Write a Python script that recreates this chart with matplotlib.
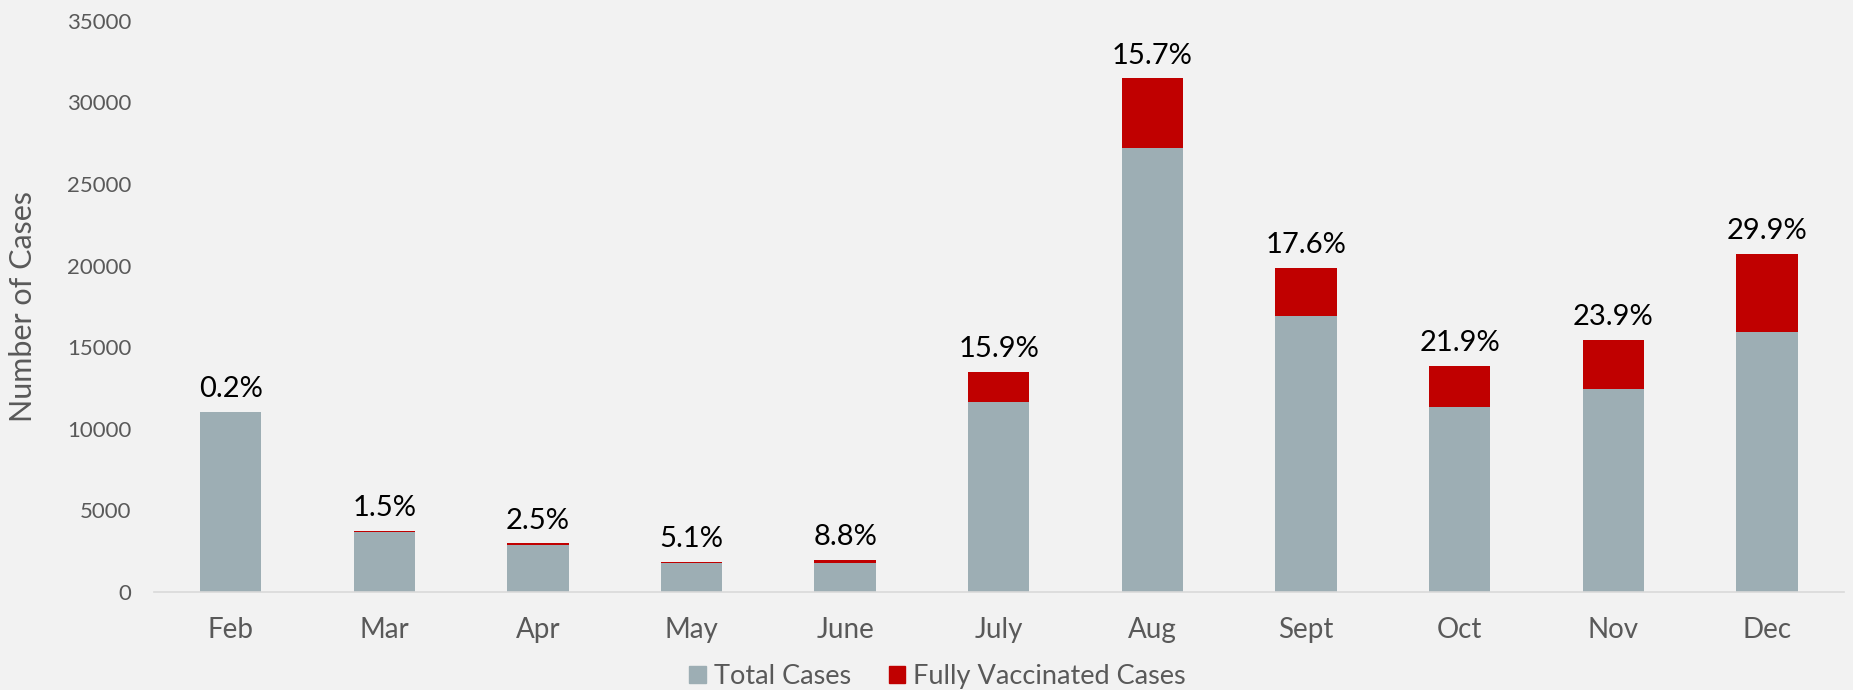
import matplotlib.pyplot as plt
from matplotlib.patches import Patch

plt.rcParams['font.family'] = ['Lato', 'DejaVu Sans']

months = ["Feb", "Mar", "Apr", "May", "June", "July", "Aug", "Sept", "Oct", "Nov", "Dec"]
total_cases = [11000, 3700, 2900, 1750, 1800, 11650, 27200, 16900, 11350, 12450, 15950]
pct_vaccinated = [0.2, 1.5, 2.5, 5.1, 8.8, 15.9, 15.7, 17.6, 21.9, 23.9, 29.9]

# vaccinated cases stacked on top of the total
vacc_cases = [t * p / 100 for t, p in zip(total_cases, pct_vaccinated)]

bg = "#F2F2F2"
gray = "#9DAEB4"
red = "#C00000"
text_gray = "#595959"

fig = plt.figure(figsize=(18.53, 6.9), dpi=100, facecolor=bg)
ax = fig.add_axes([0.083, 0.142, 0.912, 0.828], facecolor=bg)

x = list(range(len(months)))
ax.bar(x, total_cases, width=0.4, color=gray, label="Total Cases")
ax.bar(x, vacc_cases, width=0.4, bottom=total_cases, color=red, label="Fully Vaccinated Cases")

for i, (t, v, p) in enumerate(zip(total_cases, vacc_cases, pct_vaccinated)):
    ax.annotate(f"{p}%", xy=(i, t + v), xytext=(0, 7), textcoords="offset points",
                ha="center", va="bottom", fontsize=21, color="black")

ax.set_xlim(-0.5, len(months) - 0.5)
ax.set_ylim(0, 35000)
ax.set_yticks(range(0, 35001, 5000))
ax.set_xticks(x)
ax.set_xticklabels(months)
ax.tick_params(axis="both", length=0, colors=text_gray)
ax.tick_params(axis="x", pad=18, labelsize=20)
ax.tick_params(axis="y", pad=16, labelsize=16)

for side in ["top", "right", "left"]:
    ax.spines[side].set_visible(False)
ax.spines["bottom"].set_color("#D9D9D9")
ax.spines["bottom"].set_linewidth(1.2)

ax.set_ylabel("Number of Cases", fontsize=22, color=text_gray, labelpad=22)

handles = [Patch(color=gray), Patch(color=red)]
fig.legend(handles, ["Total Cases", "Fully Vaccinated Cases"], loc="center",
           bbox_to_anchor=(0.506, 0.02), ncol=2, frameon=False, fontsize=19.5,
           labelcolor=text_gray, handlelength=0.6, handleheight=0.6,
           handletextpad=0.3, columnspacing=1.4)

fig.savefig("out.png", dpi=100, facecolor=bg)
